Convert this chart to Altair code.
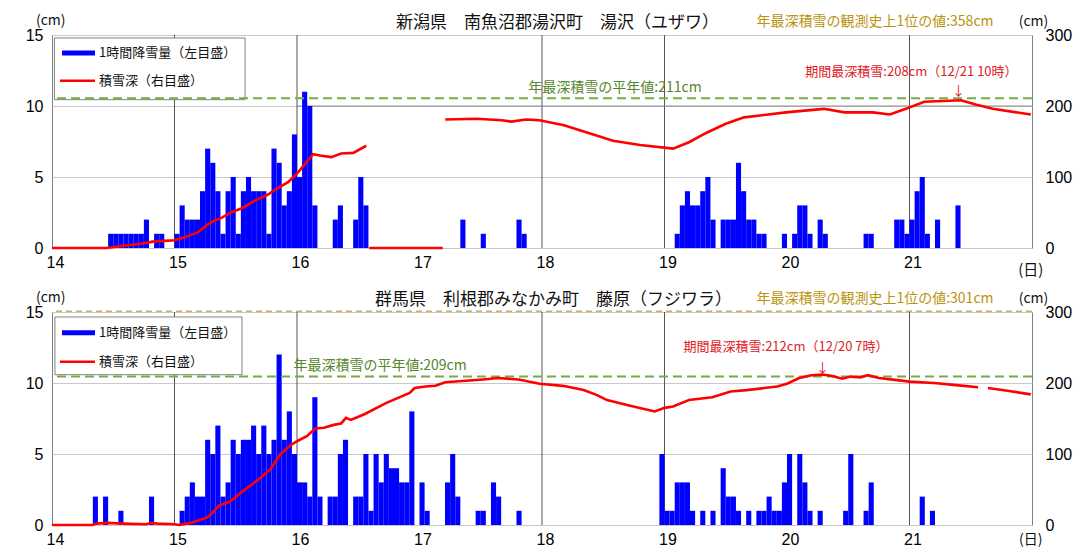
import altair as alt
import pandas as pd

DAYS = [14, 15, 16, 17, 18, 19, 20, 21]
GRID_DAYS = [15, 16, 18, 19, 21]

# ---- 湯沢 hourly snowfall (cm), hours 0..23 of each day ----
yuzawa_14 = [0,0,0,0,0,0,0,0,0,0,0,1,1,1,1,1,1,1,2,0,1,1,0,0]
yuzawa_15 = [1,3,2,2,2,4,7,6,4,1,4,5,1,4,5,4,4,4,1,7,6,3,4,8]
yuzawa_16 = [5,11,10,3,0,0,0,2,3,0,0,2,5,3,0,0,0,0,0,0,0,0,0,0]
yuzawa_17 = [0,0,0,0,0,0,0,0,2,0,0,0,1,0,0,0,0,0,0,2,1,0,0,0]
yuzawa_18 = [0,0,0,0,0,0,0,0,0,0,0,0,0,0,0,0,0,0,0,0,0,0,0,0]
yuzawa_19 = [0,0,1,3,4,3,3,4,5,2,0,2,2,2,6,4,2,2,1,1,0,0,0,1]
yuzawa_20 = [0,1,3,3,1,0,2,1,0,0,0,0,0,0,0,1,1,0,0,0,0,2,2,1]
yuzawa_21 = [2,4,5,1,0,2,0,0,0,3,0,0,0,0,0,0,0,0,0,0,0,0,0,0]

# ---- 湯沢 snow depth (cm), three recorded segments ----
yuzawa_depth_a_day = [14.0,14.44,14.58,14.73,14.82,14.92,15.0,15.08,15.19,15.27,15.33,15.38,15.46,
                      15.55,15.65,15.76,15.82,15.93,16.01,16.09,16.13,16.20,16.28,16.36,16.46,16.565]
yuzawa_depth_a_cm = [0,0,3,6,9,10,11,15,22,33,39,42,50,56,66,75,82,93,107,123,132,130,128,133,134,144]
yuzawa_depth_b_day = [16.59, 17.19]
yuzawa_depth_b_cm = [0, 0]
yuzawa_depth_c_day = [17.21,17.47,17.67,17.75,17.87,17.98,18.18,18.36,18.58,18.80,19.07,19.20,19.34,
                      19.50,19.65,19.99,20.30,20.47,20.70,20.84,20.97,21.12,21.42,21.54,21.68,21.99]
yuzawa_depth_c_cm = [181,182,180,178,181,180,173,163,151,145,140,149,162,175,184,191,196,191,191,
                     188,196,206,208,202,196,188]
yuzawa_normal = 211
yuzawa_record = 358

# ---- 藤原 hourly snowfall (cm) ----
fujiwara_14 = [0,0,0,0,0,0,0,0,2,0,2,0,0,1,0,0,0,0,0,2,0,0,0,0]
fujiwara_15 = [0,1,2,3,2,2,6,5,7,2,3,6,5,6,6,7,5,7,5,6,12,6,8,5]
fujiwara_16 = [3,3,2,9,2,0,2,2,5,6,0,2,2,5,1,5,3,5,4,4,3,3,8,0]
fujiwara_17 = [3,1,0,0,0,3,5,2,0,0,0,1,1,0,3,2,0,0,0,1,0,0,0,0]
fujiwara_18 = [0,0,0,0,0,0,0,0,0,0,0,0,0,0,0,0,0,0,0,0,0,0,0,5]
fujiwara_19 = [1,1,3,3,3,1,0,1,0,1,0,4,2,2,1,0,1,0,1,1,2,1,1,3]
fujiwara_20 = [5,0,5,3,1,0,1,0,0,0,0,1,5,0,0,1,3,0,0,0,0,0,0,0]
fujiwara_21 = [0,0,2,0,1,0,0,0,0,0,0,0,0,0,0,0,0,0,0,0,0,0,0,0]

# ---- 藤原 snow depth (cm), two recorded segments ----
fujiwara_depth_a_day = [14.0,14.33,14.36,14.45,14.58,14.77,14.81,14.86,15.0,15.04,15.13,15.26,15.30,
                        15.36,15.455,15.56,15.67,15.78,15.86,15.945,16.0,16.08,16.15,16.22,16.30,16.36,
                        16.40,16.44,16.55,16.73,16.92,16.96,17.05,17.13,17.21,17.52,17.64,17.81,17.98,
                        18.17,18.34,18.45,18.53,18.72,18.92,19.0,19.07,19.20,19.39,19.54,19.67,19.92,
                        20.0,20.1,20.2,20.29,20.37,20.45,20.52,20.6,20.66,20.75,20.9,21.0,21.2,21.38,21.56]
fujiwara_depth_a_cm = [0,0,2,3,2,1,3,2,1,0,3,10,15,27,33,48,62,78,99,112,118,125,136,137,141,143,
                       151,148,156,172,186,193,195,196,201,205,207,205,199,196,190,183,176,168,160,165,
                       167,176,180,188,190,195,199,207,211,212,210,206,209,208,211,207,204,202,200,197,194]
fujiwara_depth_b_day = [21.64, 21.8, 21.99]
fujiwara_depth_b_cm = [193, 189, 184]
fujiwara_normal = 209
fujiwara_record = 301

BLUE = "#0000ff"
RED = "#ff0000"
XS = alt.Scale(domain=[14, 22], nice=False, zero=False)
YL = alt.Scale(domain=[0, 15], nice=False)
YR = alt.Scale(domain=[0, 300], nice=False)
CJK = "Noto Sans CJK JP"

X_AXIS = alt.Axis(values=DAYS, title=None, format="d", labelFontSize=16, labelPadding=6,
                  labelOffset=3, labelFlush=False, ticks=False, domain=False, grid=False)
YL_AXIS = alt.Axis(orient="left", values=[0, 5, 10, 15], title=None, grid=True, gridColor="#c8c8c8",
                   ticks=False, domain=False, labelPadding=9, labelFontSize=16)
YR_AXIS = alt.Axis(orient="right", values=[0, 100, 200, 300], title=None, grid=False,
                   ticks=False, domain=False, labelPadding=13, labelFontSize=16)


def X(field):
    return alt.X(field, scale=XS, axis=X_AXIS)


def YLf(field):
    return alt.Y(field, scale=YL, axis=YL_AXIS)


def YRf(field):
    return alt.Y(field, scale=YR, axis=YR_AXIS)


def hourly_frame(day_lists):
    rows = []
    for d, vals in zip(DAYS, day_lists):
        for h, v in enumerate(vals):
            rows.append({"start": d + h / 24, "end": d + (h + 1) / 24, "snow": v, "base": 0})
    return pd.DataFrame(rows)


def depth_frame(segments):
    rows = []
    for s, (days, cms) in enumerate(segments):
        for d, c in zip(days, cms):
            rows.append({"day": d, "cm": c, "seg": s})
    return pd.DataFrame(rows)


def panel(hourly, depth, normal, record, center_texts, left_texts, legend, dark10):
    bars = alt.Chart(hourly).transform_filter("datum.snow > 0").mark_rect(color=BLUE).encode(
        x=X("start:Q"), x2="end:Q", y=YLf("snow:Q"), y2="base:Q",
    )
    grid = alt.Chart(pd.DataFrame({"day": GRID_DAYS})).mark_rule(color="#555555", strokeWidth=1).encode(
        x=X("day:Q")
    )
    left_layers = [grid]
    if dark10:
        left_layers.append(
            alt.Chart(pd.DataFrame({"x1": [16], "x2": [22], "v": [10]})).mark_rule(color="#8a8a8a").encode(
                x=X("x1:Q"), x2="x2:Q", y=YLf("v:Q"))
        )
    left_layers.append(bars)
    left = alt.layer(*left_layers)

    box = alt.Chart(pd.DataFrame([legend["box"]])).mark_rect(fill="white", stroke="#808080", strokeWidth=1).encode(
        x=X("x1:Q"), x2="x2:Q", y=YRf("y1:Q"), y2="y2:Q")
    normal_rule = alt.Chart(pd.DataFrame({"cm": [normal]})).mark_rule(
        color="#78ab46", strokeWidth=2, strokeDash=[9, 5]).encode(y=YRf("cm:Q"))
    layers = [box, normal_rule]
    if record <= 302:
        layers.append(alt.Chart(pd.DataFrame({"cm": [record]})).mark_rule(
            color="#c8b45a", strokeWidth=1.5, strokeDash=[6, 4]).encode(y=YRf("cm:Q")))
    line = alt.Chart(depth).mark_line(color=RED, strokeWidth=2.6).encode(
        x=X("day:Q"), y=YRf("cm:Q"), detail="seg:N",
    )
    leg_lines = alt.Chart(pd.DataFrame(legend["lines"])).mark_rule().encode(
        x=X("x1:Q"), x2="x2:Q", y=YRf("cm:Q"),
        color=alt.Color("color:N", scale=None),
        strokeWidth=alt.StrokeWidth("w:Q", scale=None))
    ctext = alt.Chart(pd.DataFrame(center_texts)).mark_text(font=CJK, align="center", baseline="middle").encode(
        x=X("day:Q"), y=YRf("cm:Q"),
        text="text:N", color=alt.Color("color:N", scale=None), size=alt.Size("size:Q", scale=None))
    ltext = alt.Chart(pd.DataFrame(left_texts)).mark_text(font=CJK, align="left", baseline="middle").encode(
        x=X("day:Q"), y=YRf("cm:Q"),
        text="text:N", color=alt.Color("color:N", scale=None), size=alt.Size("size:Q", scale=None))
    layers += [line, leg_lines, ctext, ltext]
    right = alt.layer(*layers)
    return alt.layer(left, right).resolve_scale(y="independent").properties(width=980, height=213)


INK = "#111111"
GOLD = "#b8940c"
GREEN_T = "#55862b"
RED_T = "#e0201e"

top_center = [
    {"day": 18.127, "cm": 316.4, "text": "新潟県　南魚沼郡湯沢町　湯沢（ユザワ）", "color": INK, "size": 17},
    {"day": 20.718, "cm": 318.2, "text": f"年最深積雪の観測史上1位の値:{yuzawa_record}cm", "color": GOLD, "size": 14},
    {"day": 13.99, "cm": 320.4, "text": "(cm)", "color": INK, "size": 14},
    {"day": 22.012, "cm": 318.4, "text": "(cm)", "color": INK, "size": 14},
    {"day": 21.99, "cm": -30.5, "text": "(日)", "color": INK, "size": 15},
    {"day": 18.596, "cm": 225.7, "text": f"年最深積雪の平年値:{yuzawa_normal}cm", "color": GREEN_T, "size": 14},
    {"day": 21.016, "cm": 248.1, "text": "期間最深積雪:208cm（12/21 10時）", "color": RED_T, "size": 13},
    {"day": 21.40, "cm": 221.5, "text": "↓", "color": RED_T, "size": 13},
]
top_left = [
    {"day": 14.384, "cm": 274.8, "text": "1時間降雪量（左目盛）", "color": INK, "size": 13},
    {"day": 14.384, "cm": 235.5, "text": "積雪深（右目盛）", "color": INK, "size": 13},
]
top_legend = {
    "box": {"x1": 14.02, "x2": 15.576, "y1": 295.8, "y2": 208.9},
    "lines": [
        {"x1": 14.082, "x2": 14.351, "cm": 274.8, "color": BLUE, "w": 5},
        {"x1": 14.065, "x2": 14.351, "cm": 235.5, "color": RED, "w": 2.5},
    ],
}

bot_center = [
    {"day": 18.094, "cm": 317.0, "text": "群馬県　利根郡みなかみ町　藤原（フジワラ）", "color": INK, "size": 17},
    {"day": 20.718, "cm": 318.2, "text": f"年最深積雪の観測史上1位の値:{fujiwara_record}cm", "color": GOLD, "size": 14},
    {"day": 13.99, "cm": 320.4, "text": "(cm)", "color": INK, "size": 14},
    {"day": 22.012, "cm": 318.2, "text": "(cm)", "color": INK, "size": 14},
    {"day": 21.99, "cm": -21.5, "text": "(日)", "color": INK, "size": 14},
    {"day": 16.678, "cm": 224.3, "text": f"年最深積雪の平年値:{fujiwara_normal}cm", "color": GREEN_T, "size": 14},
    {"day": 19.992, "cm": 250.9, "text": "期間最深積雪:212cm（12/20 7時）", "color": RED_T, "size": 13},
    {"day": 20.29, "cm": 221.5, "text": "↓", "color": RED_T, "size": 13},
]
bot_left = [
    {"day": 14.384, "cm": 270.6, "text": "1時間降雪量（左目盛）", "color": INK, "size": 13},
    {"day": 14.384, "cm": 229.9, "text": "積雪深（右目盛）", "color": INK, "size": 13},
]
bot_legend = {
    "box": {"x1": 14.024, "x2": 15.551, "y1": 293.0, "y2": 211.7},
    "lines": [
        {"x1": 14.082, "x2": 14.351, "cm": 270.6, "color": BLUE, "w": 5},
        {"x1": 14.065, "x2": 14.351, "cm": 229.9, "color": RED, "w": 2.5},
    ],
}

top = panel(
    hourly_frame([yuzawa_14, yuzawa_15, yuzawa_16, yuzawa_17, yuzawa_18, yuzawa_19, yuzawa_20, yuzawa_21]),
    depth_frame([(yuzawa_depth_a_day, yuzawa_depth_a_cm), (yuzawa_depth_b_day, yuzawa_depth_b_cm),
                 (yuzawa_depth_c_day, yuzawa_depth_c_cm)]),
    yuzawa_normal, yuzawa_record, top_center, top_left, top_legend, True)
bottom = panel(
    hourly_frame([fujiwara_14, fujiwara_15, fujiwara_16, fujiwara_17, fujiwara_18, fujiwara_19, fujiwara_20,
                  fujiwara_21]),
    depth_frame([(fujiwara_depth_a_day, fujiwara_depth_a_cm), (fujiwara_depth_b_day, fujiwara_depth_b_cm)]),
    fujiwara_normal, fujiwara_record, bot_center, bot_left, bot_legend, False)

chart = alt.vconcat(top, bottom, spacing=64, bounds="flush").configure_view(
    stroke="#7f7f7f", strokeWidth=1
).configure_axis(
    labelFont="Liberation Sans", labelColor="#000000"
).properties(
    padding={"left": 16, "top": 5, "right": 4, "bottom": 0}, background="white"
)

chart.save("out.html", embed_options={"renderer": "svg", "actions": False})
